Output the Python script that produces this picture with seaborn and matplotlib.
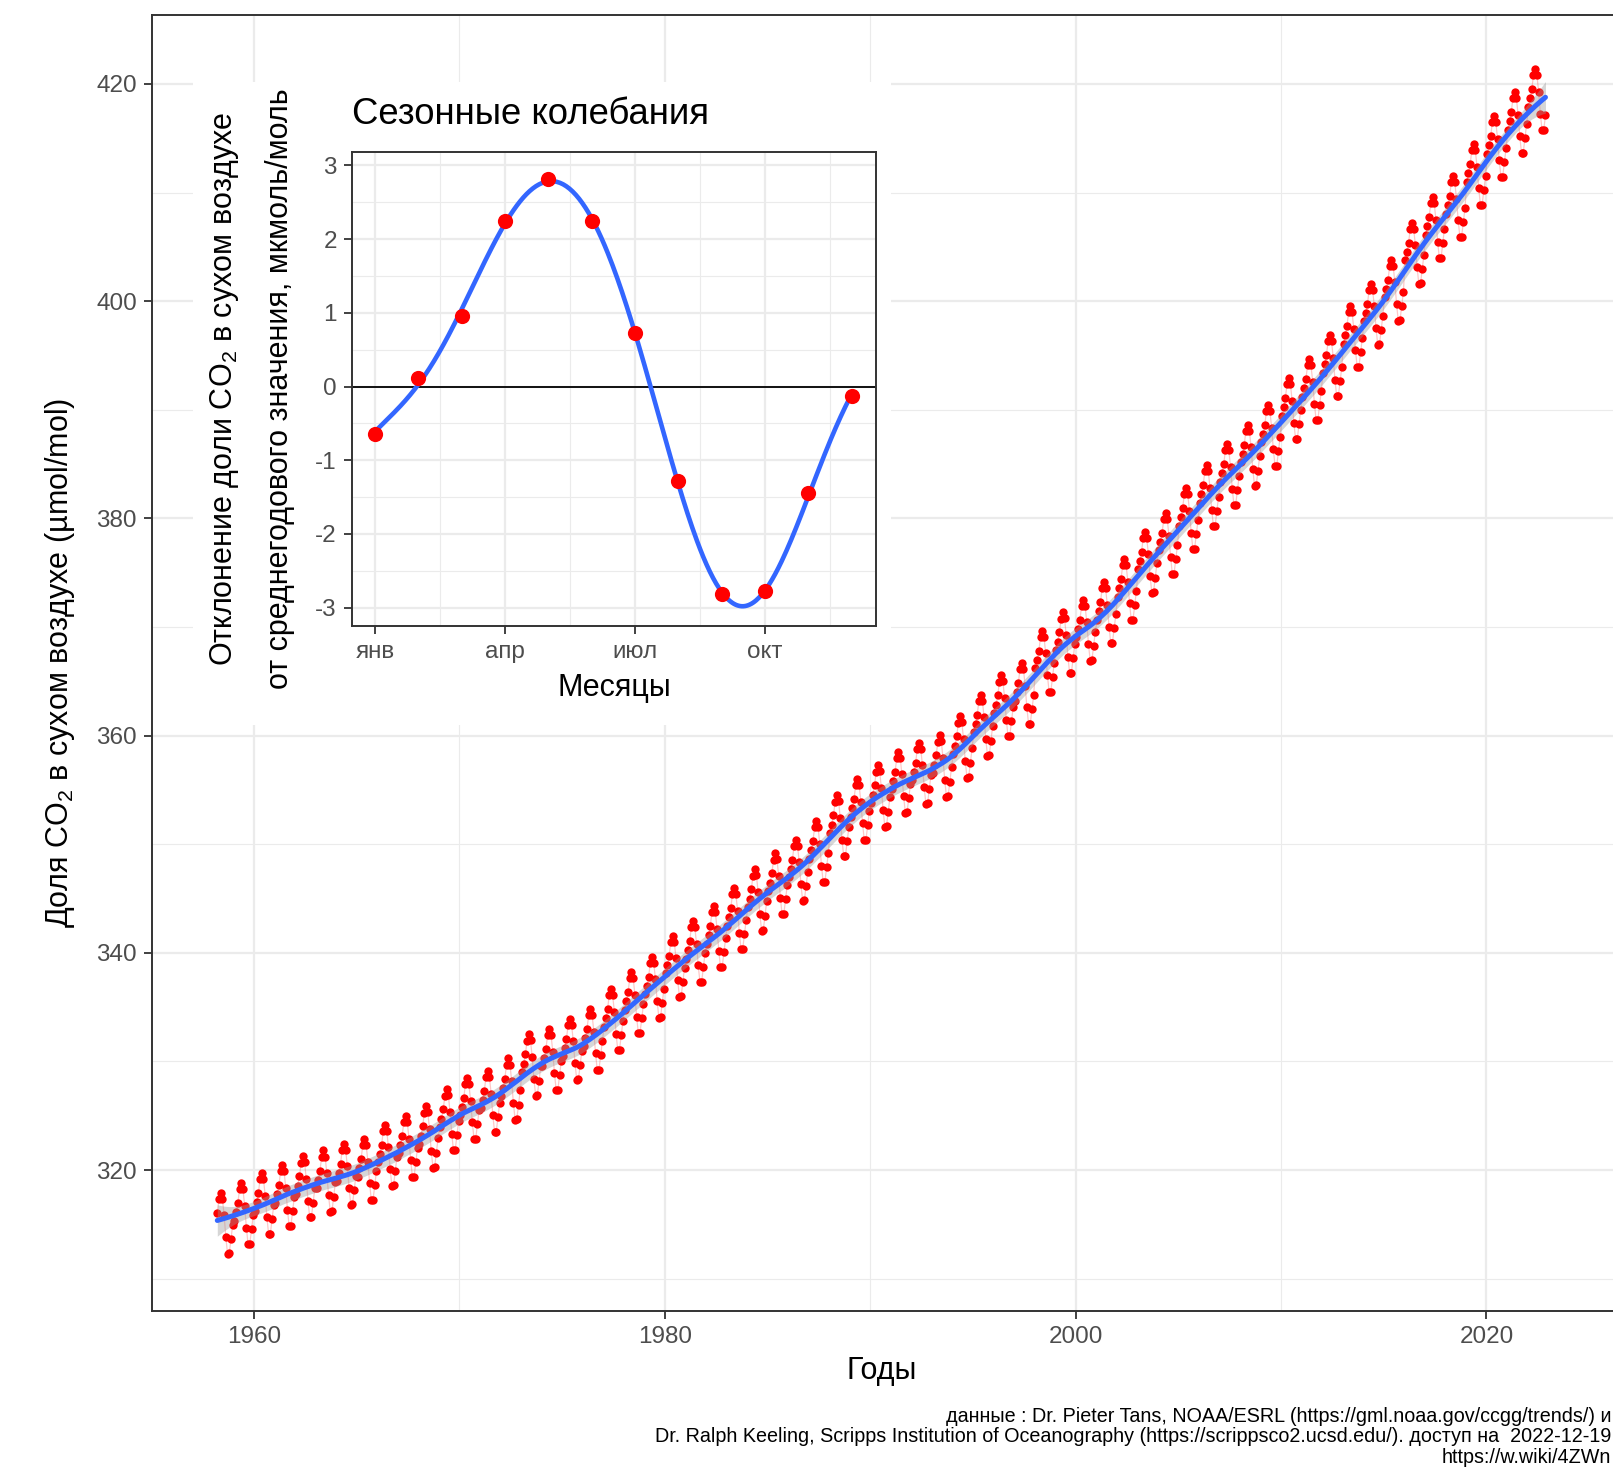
import numpy as np
import pandas as pd
import matplotlib
matplotlib.use("Agg")
import matplotlib.pyplot as plt
import seaborn as sns
from matplotlib.patches import Rectangle
from matplotlib.ticker import FixedLocator

# ---------------- data ----------------
years = list(range(1958, 2023))
annual_mean = [315.10, 315.98, 316.91, 317.64, 318.45, 318.99, 319.62, 320.04,
               321.37, 322.18, 323.05, 324.62, 325.68, 326.32, 327.46, 329.68,
               330.19, 331.13, 332.03, 333.84, 335.41, 336.84, 338.76, 340.12,
               341.48, 343.15, 344.87, 346.35, 347.61, 349.31, 351.69, 353.20,
               354.45, 355.70, 356.54, 357.21, 358.96, 360.97, 362.74, 363.88,
               366.84, 368.54, 369.71, 371.32, 373.45, 375.98, 377.70, 379.98,
               382.09, 384.02, 385.83, 387.64, 390.10, 391.85, 394.06, 396.74,
               398.81, 401.01, 404.41, 406.76, 408.72, 411.66, 414.24, 416.45,
               418.56]
months = list(range(1, 13))
month_labels = ["янв", "фев", "мар", "апр", "май", "июн",
                "июл", "авг", "сен", "окт", "ноя", "дек"]
seasonal_dev = [-0.65, 0.12, 0.96, 2.24, 2.81, 2.25,
                0.72, -1.28, -2.82, -2.78, -1.44, -0.13]
first_month = (1958, 3)
last_month = (2022, 11)

title_txt = "Сезонные колебания"
inset_ylab1 = "Отклонение доли CO$_\\mathregular{2}$ в сухом воздухе"
inset_ylab2 = "от среднегодового значения, мкмоль/моль"
inset_xlab = "Месяцы"
main_ylab = "Доля CO$_\\mathregular{2}$ в сухом воздухе (µmol/mol)"
main_xlab = "Годы"
caption = ("данные : Dr. Pieter Tans, NOAA/ESRL (https://gml.noaa.gov/ccgg/trends/) и\n"
           "Dr. Ralph Keeling, Scripps Institution of Oceanography (https://scrippsco2.ucsd.edu/). доступ на  2022-12-19\n"
           "https://w.wiki/4ZWn")

# monthly table from annual means + monthly deviations
rows = []
for y, a in zip(years, annual_mean):
    for m, d in zip(months, seasonal_dev):
        if (y, m) < first_month or (y, m) > last_month:
            continue
        rows.append({"time": y + (m - 0.5) / 12.0, "co2": a + d})
df = pd.DataFrame(rows)
seas = pd.DataFrame({"month": months, "dev": seasonal_dev})


def loess(x, y, xs, frac, degree=2):
    n = len(x)
    q = int(np.floor(frac * n))
    fit = np.empty(len(xs))
    lnorm = np.empty(len(xs))
    for k, x0 in enumerate(xs):
        d = np.abs(x - x0)
        h = np.sort(d)[q - 1]
        w = np.clip(1 - (d / h) ** 3, 0, None) ** 3
        X = np.vander(x - x0, degree + 1, increasing=True)
        XtW = X.T * w
        A = XtW @ X
        L = np.linalg.solve(A, XtW)[0]
        fit[k] = L @ y
        lnorm[k] = np.sqrt(np.sum(L ** 2))
    return fit, lnorm


xd = df["time"].to_numpy()
yd = df["co2"].to_numpy()
span = 0.11
fit_d, _ = loess(xd, yd, xd, span)
sigma = np.sqrt(np.sum((yd - fit_d) ** 2) / (len(xd) - 10))
xs = np.linspace(xd.min(), xd.max(), 400)
fit_s, ln_s = loess(xd, yd, xs, span)
se = sigma * ln_s
smooth = pd.DataFrame({"time": xs, "fit": fit_s, "lo": fit_s - 1.96 * se, "hi": fit_s + 1.96 * se})


def harmonic_fit(x, y, xs, nh=3, period=12.0):
    """least-squares fit: linear trend + nh harmonics"""
    def design(t):
        t = np.asarray(t, float)
        cols = [np.ones_like(t), t]
        for k in range(1, nh + 1):
            cols.append(np.cos(2 * np.pi * k * t / period))
            cols.append(np.sin(2 * np.pi * k * t / period))
        return np.column_stack(cols)
    beta, *_ = np.linalg.lstsq(design(x), np.asarray(y, float), rcond=None)
    return design(xs) @ beta


xm = np.linspace(1, 12, 300)
seas_curve = pd.DataFrame({"month": xm, "dev": harmonic_fit(months, seasonal_dev, xm)})

# ---------------- style ----------------
sns.set_theme(style="white")
plt.rcParams["font.family"] = ["Liberation Sans", "DejaVu Sans"]
plt.rcParams["mathtext.fontset"] = "custom"
plt.rcParams["mathtext.rm"] = "Liberation Sans"
plt.rcParams["mathtext.it"] = "Liberation Sans:italic"
plt.rcParams["axes.unicode_minus"] = False

W, H = 1613, 1467
fig = plt.figure(figsize=(W / 100, H / 100), dpi=100)
fig.patch.set_facecolor("white")


def fx(px):
    return px / W


def fy(py):
    return 1 - py / H


GRID = "#EBEBEB"
BORDER = "#333333"
TICKC = "#4D4D4D"
TICK_FS = 17.5
TITLE_FS = 22
BLUE = "#3366FF"

# main axes
mx0, mx1, my0, my1 = 152, 1615, 15, 1311
ax = fig.add_axes([fx(mx0), fy(my1), fx(mx1 - mx0), (my1 - my0) / H])
ax.set_zorder(0)
ax.set_xlim(1955.03, 2026.26)
ax.set_ylim(307.02, 426.35)

sns.lineplot(data=df, x="time", y="co2", color="red", alpha=0.22, linewidth=0.9, ax=ax, zorder=2)
sns.scatterplot(data=df, x="time", y="co2", color="red", s=36, linewidth=0, ax=ax, zorder=3)
ax.fill_between(smooth["time"], smooth["lo"], smooth["hi"], color="#999999", alpha=0.4, linewidth=0, zorder=4)
sns.lineplot(data=smooth, x="time", y="fit", color=BLUE, linewidth=3.6, ax=ax, zorder=5)

ax.xaxis.set_major_locator(FixedLocator([1960, 1980, 2000, 2020]))
ax.xaxis.set_minor_locator(FixedLocator([1970, 1990, 2010]))
ax.yaxis.set_major_locator(FixedLocator(list(range(320, 421, 20))))
ax.yaxis.set_minor_locator(FixedLocator(list(range(310, 431, 20))))
ax.grid(True, which="major", color=GRID, linewidth=1.6, zorder=0)
ax.grid(True, which="minor", color=GRID, linewidth=0.8, zorder=0)
ax.set_axisbelow(True)
for s in ["left", "top", "bottom"]:
    ax.spines[s].set_color(BORDER)
    ax.spines[s].set_linewidth(1.4)
ax.spines["right"].set_visible(False)
ax.tick_params(which="major", direction="out", length=5.8, width=1.3, color=BORDER,
               labelsize=TICK_FS, labelcolor=TICKC, pad=5, left=True, bottom=True)
ax.tick_params(which="minor", length=0)
ax.set_xlabel("")
ax.set_ylabel("")

# white box behind inset
bx0, bx1, by0, by1 = 193, 891, 82, 725
fig.patches.append(Rectangle((fx(bx0), fy(by1)), fx(bx1 - bx0), (by1 - by0) / H,
                             transform=fig.transFigure, facecolor="white",
                             edgecolor="none", zorder=1))

# inset axes
ix0, ix1, iy0, iy1 = 352, 876, 152.4, 625.9
axi = fig.add_axes([fx(ix0), fy(iy1), fx(ix1 - ix0), (iy1 - iy0) / H])
axi.set_zorder(2)
axi.set_facecolor("white")
axi.set_xlim(0.47, 12.56)
axi.set_ylim(-3.247, 3.176)
axi.axhline(0, color="black", linewidth=1.3, zorder=2)
sns.lineplot(data=seas_curve, x="month", y="dev", color=BLUE, linewidth=3.3, ax=axi, zorder=3)
sns.scatterplot(data=seas, x="month", y="dev", color="red", s=120, linewidth=0, ax=axi, zorder=4)
axi.xaxis.set_major_locator(FixedLocator([1, 4, 7, 10]))
axi.set_xticklabels([month_labels[i] for i in (0, 3, 6, 9)])
axi.xaxis.set_minor_locator(FixedLocator([2.5, 5.5, 8.5, 11.5]))
axi.yaxis.set_major_locator(FixedLocator([-3, -2, -1, 0, 1, 2, 3]))
axi.yaxis.set_minor_locator(FixedLocator([-2.5, -1.5, -0.5, 0.5, 1.5, 2.5]))
axi.grid(True, which="major", color=GRID, linewidth=1.6)
axi.grid(True, which="minor", color=GRID, linewidth=0.8)
axi.set_axisbelow(True)
for s in axi.spines.values():
    s.set_color(BORDER)
    s.set_linewidth(1.4)
axi.tick_params(which="major", direction="out", length=5.8, width=1.3, color=BORDER,
                labelsize=TICK_FS, labelcolor=TICKC, pad=5, left=True, bottom=True)
axi.tick_params(which="minor", length=0)
axi.set_xlabel("")
axi.set_ylabel("")

# texts
fig.text(fx(352), fy(114), title_txt, ha="left", va="center", fontsize=26.3, color="black")
fig.text(fx(224.5), fy(389), inset_ylab1, rotation=90, ha="center", va="center",
         fontsize=TITLE_FS, color="black")
fig.text(fx(279.6), fy(389), inset_ylab2, rotation=90, ha="center", va="center",
         fontsize=TITLE_FS, color="black")
fig.text(fx(614), fy(688), inset_xlab, ha="center", va="center", fontsize=TITLE_FS, color="black")
fig.text(fx(60), fy(663), main_ylab, rotation=90, ha="center", va="center",
         fontsize=TITLE_FS, color="black")
fig.text(fx(882), fy(1371), main_xlab, ha="center", va="center", fontsize=TITLE_FS, color="black")
fig.text(fx(1611), fy(1407), caption, ha="right", va="top", multialignment="right",
         fontsize=14.2, linespacing=1.1, color="black")

fig.savefig("out.png", dpi=100, facecolor="white")
